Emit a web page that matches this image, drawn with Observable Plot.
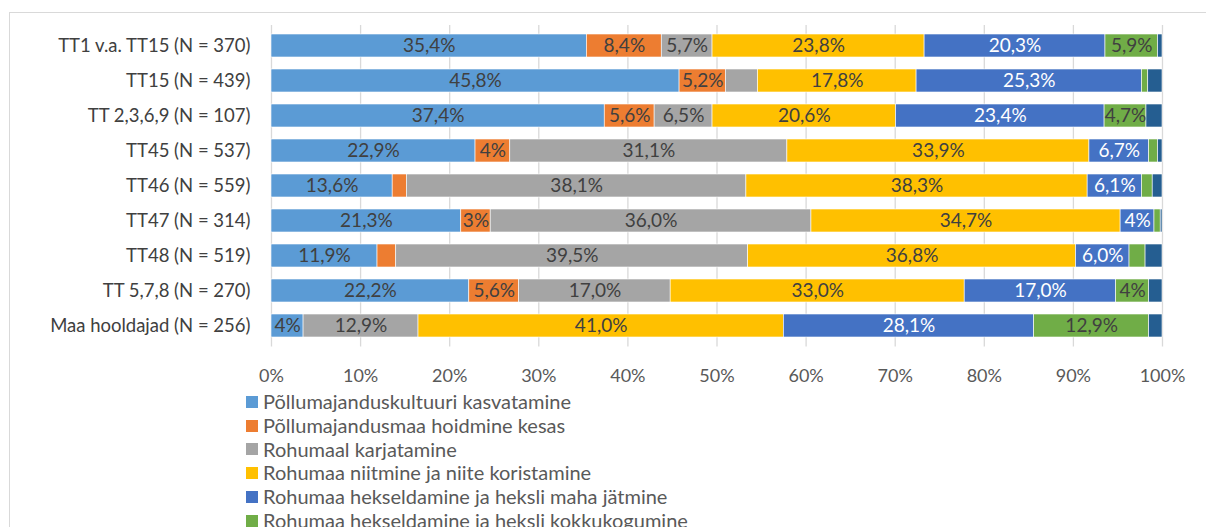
<!DOCTYPE html>
<html>
<head>
<meta charset="utf-8">
<script src="https://cdn.jsdelivr.net/npm/d3@7"></script>
<script src="https://cdn.jsdelivr.net/npm/@observablehq/plot@0.6"></script>
<style>
  html, body { margin: 0; padding: 0; background: #fff; overflow: hidden; }
  body { position: relative; width: 1206px; height: 527px; font-family: Lato, sans-serif; }
  #frame { position: absolute; left: 9px; top: 12px; width: 1300px; height: 700px; border: 1px solid #d9d9d9; box-sizing: border-box; }
  #chart { position: absolute; left: 0; top: 0; }
  #legend { position: absolute; left: 246px; top: 390px; font-size: 20px; color: #595959; }
  .li { height: 23.8px; line-height: 23.8px; display: flex; align-items: center; white-space: nowrap; }
  .sw { width: 12px; height: 12px; margin-right: 5px; flex: none; }
</style>
</head>
<body>
<div id="frame"></div>
<div id="chart"></div>
<div id="legend"></div>
<script>
const categories = [
  "TT1 v.a. TT15 (N = 370)",
  "TT15 (N = 439)",
  "TT 2,3,6,9 (N = 107)",
  "TT45 (N = 537)",
  "TT46 (N = 559)",
  "TT47 (N = 314)",
  "TT48 (N = 519)",
  "TT 5,7,8 (N = 270)",
  "Maa hooldajad (N = 256)"
];

const seriesNames = [
  "Põllumajanduskultuuri kasvatamine",
  "Põllumajandusmaa hoidmine kesas",
  "Rohumaal karjatamine",
  "Rohumaa niitmine ja niite koristamine",
  "Rohumaa hekseldamine ja heksli maha jätmine",
  "Rohumaa hekseldamine ja heksli kokkukogumine",
  "Muu"
];

const seriesColors = ["#5B9BD5", "#ED7D31", "#A5A5A5", "#FFC000", "#4472C4", "#70AD47", "#255E91"];

// values (%) per series, in category order
const kasvatamine = [35.4, 45.8, 37.4, 22.9, 13.6, 21.3, 11.9, 22.2, 3.6];
const kesas       = [8.4, 5.2, 5.6, 3.9, 1.6, 3.3, 2.1, 5.6, 0.0];
const karjatamine = [5.7, 3.6, 6.5, 31.1, 38.1, 36.0, 39.5, 17.0, 12.9];
const niitmine    = [23.8, 17.8, 20.6, 33.9, 38.3, 34.7, 36.8, 33.0, 41.0];
const hekslMaha   = [20.3, 25.3, 23.4, 6.7, 6.1, 3.8, 6.0, 17.0, 28.1];
const hekslKokku  = [5.9, 0.7, 4.7, 1.0, 1.2, 0.7, 1.8, 3.7, 12.9];
const muu         = [0.5, 1.6, 1.8, 0.5, 1.1, 0.2, 1.9, 1.5, 1.5];

// data labels as shown
const lblKasvatamine = ["35,4%", "45,8%", "37,4%", "22,9%", "13,6%", "21,3%", "11,9%", "22,2%", "4%"];
const lblKesas       = ["8,4%", "5,2%", "5,6%", "4%", "", "3%", "", "5,6%", ""];
const lblKarjatamine = ["5,7%", "", "6,5%", "31,1%", "38,1%", "36,0%", "39,5%", "17,0%", "12,9%"];
const lblNiitmine    = ["23,8%", "17,8%", "20,6%", "33,9%", "38,3%", "34,7%", "36,8%", "33,0%", "41,0%"];
const lblHekslMaha   = ["20,3%", "25,3%", "23,4%", "6,7%", "6,1%", "4%", "6,0%", "17,0%", "28,1%"];
const lblHekslKokku  = ["5,9%", "", "4,7%", "", "", "", "", "4%", "12,9%"];
const lblMuu         = ["", "", "", "", "", "", "", "", ""];

const xTicks = [0, 10, 20, 30, 40, 50, 60, 70, 80, 90, 100];

const seriesValues = [kasvatamine, kesas, karjatamine, niitmine, hekslMaha, hekslKokku, muu];
const seriesLabels = [lblKasvatamine, lblKesas, lblKarjatamine, lblNiitmine, lblHekslMaha, lblHekslKokku, lblMuu];

const data = [];
categories.forEach((c, i) => {
  seriesNames.forEach((s, j) => {
    data.push({cat: c, series: s, value: seriesValues[j][i], label: seriesLabels[j][i], white: j === 4});
  });
});

const stackOpts = {x: "value", y: "cat", z: "series", order: seriesNames};

const chart = Plot.plot({
  width: 1206,
  height: 388,
  marginLeft: 271,
  marginRight: 44,
  marginTop: 25,
  marginBottom: 41.4,
  style: {fontFamily: "Lato, sans-serif", fontSize: "18px", color: "#595959", background: "transparent"},
  x: {domain: [0, 100], ticks: xTicks, tickFormat: d => d + "%", label: null},
  y: {domain: categories, paddingInner: 0.35, paddingOuter: 0.175, label: null},
  color: {domain: seriesNames, range: seriesColors},
  marks: [
    Plot.gridX(xTicks, {stroke: "#d9d9d9", strokeOpacity: 1, strokeWidth: 1.3}),
    Plot.barX(data, Plot.stackX({...stackOpts, fill: "series", stroke: "white", strokeWidth: 0.6})),
    Plot.text(data, Plot.stackX({...stackOpts, text: d => d.white ? "" : d.label, fill: "#404040", fontSize: 19})),
    Plot.text(data, Plot.stackX({...stackOpts, text: d => d.white ? d.label : "", fill: "white", fontSize: 19})),
    Plot.axisX({ticks: xTicks, tickFormat: d => d + "%", tickSize: 0, tickPadding: 22, fill: "#595959", label: null, fontSize: 18}),
    Plot.axisY({tickSize: 0, tickPadding: 21, fill: "#404040", label: null, fontSize: 18.5})
  ]
});
document.getElementById("chart").appendChild(chart);

const legend = document.getElementById("legend");
seriesNames.forEach((s, j) => {
  const row = document.createElement("div");
  row.className = "li";
  const sw = document.createElement("span");
  sw.className = "sw";
  sw.style.background = seriesColors[j];
  const t = document.createElement("span");
  t.textContent = s;
  row.appendChild(sw);
  row.appendChild(t);
  legend.appendChild(row);
});
</script>
</body>
</html>
